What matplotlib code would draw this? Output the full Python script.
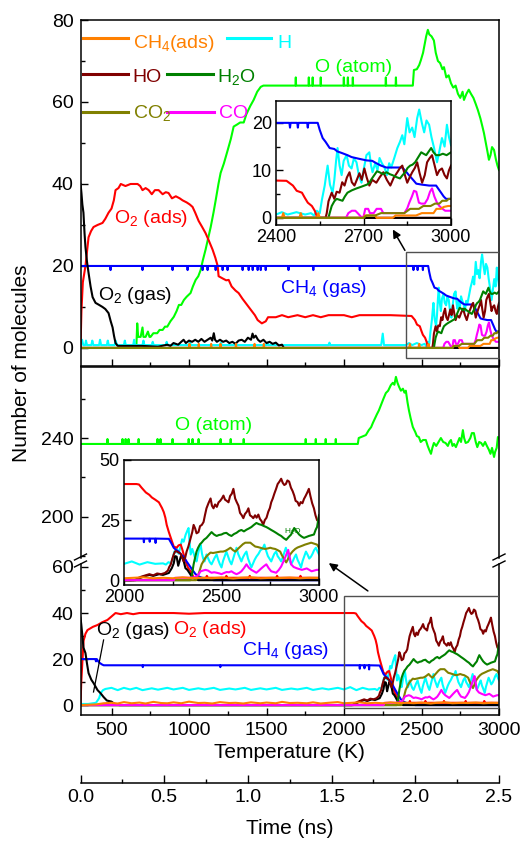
import numpy as np
import matplotlib
matplotlib.use('Agg')
import matplotlib.pyplot as plt
from matplotlib.lines import Line2D
from matplotlib.patches import Rectangle
from matplotlib.ticker import MultipleLocator

plt.rcParams['font.family'] = ['Liberation Sans', 'DejaVu Sans']
plt.rcParams['mathtext.fontset'] = 'custom'
plt.rcParams['mathtext.rm'] = 'Liberation Sans'
plt.rcParams['mathtext.default'] = 'regular'

# colours of the species
C_O = '#00ff00'
C_H = '#00ffff'
C_O2ADS = '#ff0000'
C_CH4GAS = '#0000ff'
C_O2GAS = '#000000'
C_HO = '#800000'
C_H2O = '#008000'
C_CO = '#ff00ff'
C_CH4ADS = '#ff8000'
C_CO2 = '#808000'

# ---------------- top panel data: (temperature K, number of molecules) ----------------
O2ADS_TOP = [(300,0),(306,9),(315,16),(332,20),(352,27),(368,28.5),(384,29.5),(410,30),(442,30.5),(460,31.5),
             (481,33),(500,34),(515,36),(526,38.5),(545,39),(560,40),(590,39.5),(623,40),(668,40),(685,39.5),
             (700,38.5),(720,39),(740,38.5),(760,37.5),(780,38.5),(804,38.5),(830,37.5),(850,38),(868,37.8),
             (890,36.5),(915,37),(940,36.5),(959,36),(985,35.5),(1005,35),(1023,34.4),(1040,33),(1062,31),
             (1085,29.5),(1107,28),(1130,26),(1152,24),(1170,22),(1185,20),(1191,17.5),(1215,17),(1240,16.5),
             (1256,16.6),(1275,15),(1300,14),(1320,13.4),(1345,12),(1365,11),(1385,10),(1405,9),(1425,8),
             (1443,6.8),(1470,6),(1495,6.5),(1510,7.5),(1560,7.5),(1600,8),(1640,7.5),(1700,8),(1750,7.5),
             (1800,8),(1850,7.5),(1900,8),(2000,8),(2050,7.5),(2100,8),(2200,8),(2300,8),(2436,7.8),(2458,6.8),
             (2471,5.7),(2489,5.3),(2499,4.2),(2509,3.2),(2523,2.5),(2533,1.5),(2540,0.3),(2550,0),(3000,0)]

CH4GAS_TOP = [(300,20),(492,20),(494,19),(496,20),(698,20),(700,19),(702,20),(892,20),(894,19),(896,20),
              (989,20),(991,19),(993,20),(1086,20),(1088,19),(1090,20),(1118,20),(1120,19),(1122,20),
              (1170,20),(1172,19),(1174,20),(1215,20),(1217,19),(1219,20),(1247,20),(1249,19),(1251,20),
              (1344,20),(1346,19),(1348,20),(1383,20),(1385,19),(1387,20),(1409,20),(1411,19),(1413,20),
              (1441,20),(1443,19),(1445,20),(1461,20),(1463,19),(1465,20),(1493,20),(1495,19),(1497,20),
              (1640,20),(1642,19),(1644,20),(1800,20),(1802,19),(1804,20),(2100,20),(2102,19),(2104,20),
              (2446,20),(2448,19),(2450,20),(2473,20),(2475,19),(2477,20),(2507,20),(2509,19),(2511,20),
              (2543,20),(2550,18.5),(2560,16.8),(2570,16),(2584,14.7),(2600,14.5),(2610,14),(2628,13.6),
              (2645,13.2),(2659,12.8),(2680,12.5),(2710,12.1),(2730,12),(2744,11.5),(2760,11),(2778,10.6),
              (2800,10.6),(2833,10.6),(2845,9.8),(2857,8.9),(2870,8),(2881,7.2),(2900,7),(2925,6.8),
              (2949,6.8),(2958,6),(2966,5.3),(2975,4.5),(2983,4),(3000,4)]

H_TOP = [(300,1),(310,2),(318,0.7),(330,0.7),(335,1.8),(342,0.7),(370,0.7),(376,1.8),(383,0.7),(420,0.7),
         (426,2),(433,0.7),(470,0.7),(476,1.8),(482,0.7),(520,0.7),(527,1.8),(535,0.7),(580,0.7),(586,1.8),
         (592,0.7),(640,0.7),(646,2),(652,0.7),(700,0.7),(706,1.8),(712,0.7),(760,0.7),(766,1.5),(772,0.7),
         (850,0.7),(856,1.5),(862,0.7),(1000,0.7),(1006,1.5),(1012,0.7),(1200,0.7),(1206,1.3),(1212,0.7),
         (1500,0.7),(1506,1.3),(1512,0.7),(1900,0.7),(1906,1.3),(1912,0.7),(2240,0.7),(2250,3.5),(2258,0.7),
         (2400,0.7),(2420,1.2),(2440,0.7),(2470,1.2),(2500,0.7),(2520,1),(2530,0.5),(2540,1.5),(2550,1),
         (2558,4),(2567,6.8),(2572,9),(2577,11),(2585,7),(2594,5.3),(2600,8),(2606,12),(2611,14.7),(2618,11),
         (2625,9),(2632,12),(2642,13.2),(2650,11),(2659,10.4),(2667,12.5),(2676,11.7),(2684,9),(2693,7.4),
         (2700,10),(2710,13.2),(2720,13.8),(2726,11),(2731,9.6),(2740,11.5),(2748,10),(2755,12.6),(2763,11.5),
         (2772,10.6),(2780,9),(2788,11.5),(2795,10.6),(2805,12.5),(2816,14.7),(2825,16),(2833,17.4),
         (2840,15.5),(2850,21),(2858,18),(2867,19),(2875,17),(2884,21),(2891,22.8),(2900,20),(2908,18),
         (2916,20.5),(2925,19.6),(2933,17),(2942,14.7),(2952,11.7),(2960,14),(2969,16.8),(2978,15),
         (2986,19.6),(2993,17),(3000,15.3)]

O2GAS_TOP = [(300,40),(303,39),(306,37.8),(312,35),(319,33),(326,28),(332,24.6),(342,21),(352,18.3),
             (365,15),(378,12.4),(397,11),(420,10.5),(442,10),(460,9.5),(481,8.5),(495,6.5),(507,5),(516,3),
             (526,1.2),(540,0.5),(600,0.5),(700,0.5),(800,0.3),(860,0.8),(880,0.5),(900,1.2),(930,0.8),
             (950,1.5),(965,2),(980,1.2),(1000,1.8),(1020,1.5),(1040,2),(1060,1.5),(1080,2.2),(1100,1.5),
             (1120,2),(1140,2.5),(1150,1.8),(1160,3.6),(1168,2),(1180,1.5),(1200,2),(1220,1.5),(1240,1.8),
             (1260,1.2),(1280,1.5),(1300,1),(1320,1.8),(1340,2),(1360,1.5),(1380,2.5),(1400,2),(1410,3.5),
             (1418,2.5),(1430,3),(1445,2),(1460,1.5),(1480,2),(1500,1.2),(1520,1.5),(1540,1),(1560,1.3),
             (1580,0.6),(1600,0.8),(1612,0),(3000,0)]

O_TOP = [(300,0),(660,0),(666,6),(672,2.7),(688,2.7),(700,5),(706,2.7),(720,2.7),(735,4),(745,2.7),(752,2.7),
         (770,3.6),(795,3.6),(810,4.4),(830,4.4),(845,5.2),(860,5.2),(880,6.5),(902,7.6),(920,9),(935,10.5),
         (950,10.5),(967,11.7),(985,12.5),(1010,13.4),(1025,15),(1043,16.6),(1060,17.5),(1075,19),(1090,21.5),
         (1107,24),(1125,27),(1140,29.5),(1158,33),(1172,36),(1190,40),(1204,42.7),(1225,45),(1250,48.3),
         (1270,51),(1288,54),(1310,54.5),(1330,55),(1353,55),(1370,57),(1395,59),(1417,60.5),(1440,62.5),
         (1463,63.7),(1480,64),(1687,64),(1689,66),(1691,64),(1771,64),(1773,66),(1775,64),(1796,64),
         (1798,66),(1800,64),(1848,64),(1850,66),(1852,64),(1997,64),(1999,66),(2001,64),(2023,64),(2025,66),
         (2027,64),(2055,64),(2057,66),(2059,64),(2268,64),(2270,66),(2272,64),(2333,64),(2335,66),(2337,64),
         (2444,64),(2451,67.8),(2470,68),(2485,69),(2496,70.2),(2510,72),(2520,74),(2530,76),(2541,77.6),
         (2550,76.5),(2565,76),(2580,75),(2592,72),(2606,70),(2620,69.5),(2635,68),(2645,68.5),(2660,66),
         (2675,66.5),(2690,64.6),(2705,63.5),(2720,64),(2735,62),(2750,61),(2765,62.5),(2774,60.5),(2790,62),
         (2805,63),(2819,62),(2835,61),(2850,59.5),(2864,58),(2880,56),(2893,54),(2903,52.4),(2915,50),
         (2925,48),(2935,45.9),(2945,47),(2955,49),(2968,48.3),(2980,46),(2990,44.5),(3000,43.4)]

HO_TOP = [(300,0),(2570,0),(2574,1),(2580,3.5),(2591,5.3),(2600,4),(2608,5.5),(2618,5.3),(2627,7.5),(2635,6.8),
          (2643,8.5),(2652,9.6),(2660,7.5),(2669,6.8),(2677,8),(2686,9.4),(2694,8),(2703,10.4),(2711,8.5),
          (2720,6.8),(2730,8),(2744,7.4),(2755,8.5),(2768,9.6),(2780,8),(2792,6.8),(2804,8.5),(2816,9.6),
          (2825,10.5),(2833,11),(2842,9),(2850,7.4),(2858,8.5),(2867,9.6),(2876,10.5),(2884,11.7),(2892,9.5),
          (2901,7.4),(2910,9),(2918,11.7),(2926,12.5),(2935,13.2),(2944,11),(2952,9),(2960,10),(2969,10.4),
          (2978,9),(2986,8.3),(2993,10),(3000,11)]

H2O_TOP = [(300,0),(2580,0),(2584,1),(2591,2.5),(2600,3.5),(2608,4),(2618,3.8),(2628,3.6),(2636,4.5),(2645,5.3),
           (2660,5.8),(2676,6.2),(2690,6.5),(2703,6.8),(2712,7),(2720,7.4),(2728,8.2),(2737,9),(2746,9.8),
           (2755,9.6),(2767,9.2),(2779,9.6),(2790,9.2),(2799,9),(2812,8.6),(2825,8.3),(2834,9),(2843,9.6),
           (2851,10.5),(2860,11),(2868,11.2),(2877,11.7),(2888,12.8),(2898,13.8),(2906,13.5),(2915,13.2),
           (2924,14),(2932,14.7),(2940,13.8),(2949,13.2),(2960,13.2),(2972,13.5),(2985,13.2),(3000,13.8)]

CO_TOP = [(300,0),(2640,0),(2648,1),(2660,1.5),(2672,1.5),(2680,1),(2692,0.2),(2700,0.2),(2706,1.9),(2716,1.9),
          (2722,1),(2735,1),(2745,1.9),(2760,1.9),(2768,1),(2790,1),(2805,1),(2820,1),(2840,1),(2850,2),
          (2857,3.2),(2866,4.5),(2873,5.7),(2881,5.5),(2890,3.2),(2898,3),(2910,3),(2920,4),(2928,5.5),
          (2935,6.2),(2943,4.5),(2952,3.2),(2960,2.5),(2969,2),(2980,1.5),(3000,1.5)]

CO2_TOP = [(300,0),(2700,0),(2710,0.5),(2740,0.5),(2760,1),(2800,1),(2840,1),(2860,1.9),(2890,1.9),(2905,2.5),
           (2930,2.5),(2945,3),(2960,3),(2970,3.6),(2985,3.6),(2992,4),(3000,4)]

CH4ADS_TOP = [(300,0),(1000,0),(1003,1),(1006,0),(1060,0),(1063,1),(1066,0),(1140,0),(1143,1),(1146,0),
              (1200,0),(1203,1),(1206,0),(1300,0),(1303,1),(1306,0),(1420,0),(1423,1),(1426,0),(1480,0),
              (1483,1),(1486,0),(2420,0),(2425,1),(2430,0),(2480,0),(2485,1),(2490,0),(2540,0),(2545,1),
              (2550,0),(2700,0),(2705,0.5),(2740,0.5),(2745,0),(2800,0),(2810,0.5),(2880,0.5),(2900,1),
              (2920,1),(2940,1),(2950,1.9),(2965,1.9),(2975,2.3),(2990,2.5),(3000,2.5)]

# ---------------- bottom panel data ----------------
O_BOT = [(300,237),(472,237),(474,239.5),(476,237),(569,237),(571,239.5),(573,237),(589,237),(591,239.5),
         (593,237),(608,237),(610,239.5),(612,237),(673,237),(675,239.5),(677,237),(795,237),(797,239.5),
         (799,237),(814,237),(816,239.5),(818,237),(892,237),(894,239.5),(896,237),(996,237),(998,239.5),
         (1000,237),(1021,237),(1023,239.5),(1025,237),(1060,237),(1062,239.5),(1064,237),(1202,237),
         (1204,239.5),(1206,237),(1267,237),(1269,239.5),(1271,237),(1351,237),(1353,239.5),(1355,237),
         (1751,237),(1753,239.5),(1755,237),(1816,237),(1818,239.5),(1820,237),(1880,237),(1882,239.5),
         (1884,237),(1945,237),(1947,239.5),(1949,237),(2089,237),(2095,240),(2110,240.5),(2125,241),
         (2141,241.5),(2160,244),(2175,245.5),(2186,247.6),(2200,250),(2212,252),(2225,254),(2240,257),
         (2255,260),(2270,262.8),(2285,264),(2302,266.8),(2315,268),(2325,267),(2335,271),(2345,268),
         (2355,266),(2367,264),(2380,265),(2390,263),(2399,264),(2410,258),(2419,254),(2430,250),(2444,245.6),
         (2460,243),(2470,241),(2483,240.5),(2495,238),(2510,239),(2528,239),(2540,236),(2550,234),(2561,232),
         (2570,235),(2580,237.5),(2595,236),(2610,238),(2625,240),(2640,238),(2655,237.5),(2670,236),
         (2680,238),(2690,239),(2700,236),(2710,237),(2722,235.4),(2735,238),(2745,240),(2755,238),(2767,244),
         (2775,240),(2785,237.5),(2800,238),(2815,240),(2825,242.5),(2838,242.5),(2850,238),(2860,235.4),
         (2872,238),(2885,237.5),(2897,236),(2910,238),(2922,236),(2935,234),(2945,232),(2955,235),(2968,230.4),
         (2975,233),(2985,235),(2993,240.5),(3000,240)]

O2ADS_BOT = [(300,0),(305,10),(313,20),(320,28),(332,31),(345,32.6),(380,34),(410,34.8),(440,36),(474,37),
             (500,38.5),(526,40),(560,39.5),(600,40),(640,39.5),(680,40),(900,40),(1000,39.7),(1100,40),
             (1500,40),(2064,40),(2077,39.8),(2090,38.5),(2112,36.5),(2130,35.5),(2143,34.4),(2160,33.5),
             (2179,32.4),(2195,30),(2204,28.3),(2212,26),(2219,23),(2230,20),(2240,17.6),(2255,14),(2270,13.5),
             (2280,14.5),(2291,14.8),(2300,12.5),(2306,10.7),(2321,6.6),(2330,5),(2342,3.7),(2357,1.2),
             (2370,0.8),(2420,1),(2425,1.8),(2430,1),(2520,1),(2525,1.8),(2530,1),(2640,1),(2645,1.8),
             (2650,1),(2780,1),(2785,1.8),(2790,1),(2900,1),(2905,1.8),(2910,1),(3000,1)]

CH4GAS_BOT = [(300,20),(395,20),(400,19),(405,20),(410,19.5),(420,18.5),(440,17.6),(450,17.3),(700,17.3),
              (702,16.5),(704,17.3),(1200,17.3),(1202,16.5),(1204,17.3),(2100,17.3),(2102,15.8),(2104,17.3),
              (2130,17.3),(2132,16),(2134,17.3),(2160,17.3),(2162,15.5),(2164,17.3),(2230,17.2),(2242,15.5),
              (2255,13.5),(2268,12.5),(2280,11.9),(2295,10.5),(2306,9.8),(2321,7.8),(2332,6.5),(2342,5.3),
              (2355,3.8),(2367,2.5),(2385,1.5),(2400,1),(2430,0.5),(2460,0),(3000,0)]

H_BOT = [(300,0.5),(350,0.5),(400,1),(420,3),(430,5.2),(445,6.5),(460,7),(500,7.5),(540,6.5),(580,7.5),
         (620,6.8),(660,7.5),(700,6.5),(760,7.3),(800,6.7),(860,7.5),(900,6.8),(960,7.5),(1000,6.6),
         (1060,7.3),(1100,6.8),(1160,7.5),(1200,6.6),(1260,7.2),(1300,6.8),(1360,7.5),(1400,6.6),(1460,7.3),
         (1500,6.8),(1560,7.5),(1600,6.6),(1660,7.2),(1700,6.8),(1760,7.5),(1800,6.6),(1860,7.3),(1900,6.8),
         (1960,7.5),(2000,6.8),(2040,7.8),(2080,6.5),(2120,7.5),(2160,6.8),(2200,7),(2215,6.5),(2228,7.5),
         (2240,7),(2250,9),(2258,11.9),(2265,11.5),(2272,13),(2280,11),(2290,14),(2298,17),(2306,16),
         (2316,18.9),(2324,20.5),(2331,21.7),(2337,15),(2342,10.7),(2350,13),(2358,11),(2365,9),(2372,7.8),
         (2380,11),(2387,13.5),(2393,14.8),(2400,11),(2406,9),(2413,7.8),(2418,9),(2423,10.7),(2432,9),
         (2440,7.5),(2449,6.6),(2457,8),(2466,9.5),(2475,10.7),(2483,8.5),(2491,6.8),(2500,5.3),(2508,8),
         (2517,10),(2525,11.9),(2533,10),(2542,8),(2551,6.6),(2560,9),(2568,11),(2577,13.5),(2585,11),
         (2593,9.5),(2602,7.8),(2610,9.5),(2620,11),(2628,11.9),(2636,9),(2645,7),(2653,5.3),(2662,7),
         (2670,8.5),(2679,9.8),(2690,11),(2700,12.5),(2710,13),(2720,14.8),(2730,12),(2738,10),(2746,9),
         (2755,7.8),(2763,9.5),(2771,11),(2780,11.9),(2788,10),(2797,9),(2806,7.8),(2814,9.5),(2822,11.5),
         (2830,13.5),(2840,10.5),(2848,8.5),(2857,6.6),(2866,8),(2874,9.5),(2882,10.7),(2890,8.5),(2899,7),
         (2908,5.3),(2916,8),(2925,10),(2933,11.9),(2942,10.5),(2950,9),(2959,9.8),(2967,11),(2975,12.5),
         (2984,13.5),(2992,12),(3000,10.7)]

O2GAS_BOT = [(300,38),(305,35),(313,29.6),(319,25),(332,22.6),(342,18),(352,13.9),(370,11),(384,9.6),(410,6.5),
             (429,5.2),(449,3.5),(470,2),(500,1.5),(520,0.5),(550,0),(2050,0),(2080,0.8),(2100,1.5),(2130,2.2),
             (2150,1.8),(2180,2.5),(2200,2.2),(2230,3),(2245,5),(2255,7),(2262,10),(2270,9.8),(2278,6),
             (2285,8),(2292,10),(2300,9.4),(2306,8),(2315,5),(2325,4.3),(2335,3.1),(2350,1.2),(2365,0.5),
             (2380,0),(3000,0)]

HO_BOT = [(300,0),(2060,0),(2075,1),(2090,1.5),(2110,2),(2130,2.5),(2150,2),(2170,2.8),(2190,2.5),(2210,3),
          (2225,4),(2232,5.5),(2240,6.6),(2248,9),(2255,10.7),(2262,12),(2270,12),(2280,11.5),(2291,11),
          (2298,9.5),(2306,7.8),(2314,9.5),(2321,11.9),(2330,14),(2342,17.6),(2350,20),(2357,23),(2365,21.5),
          (2372,19.5),(2382,20),(2390,22.5),(2399,23),(2408,24.2),(2415,27),(2423,29.9),(2433,32),(2444,34),
          (2451,31),(2459,29.9),(2467,31.5),(2476,30.5),(2485,32.4),(2493,33),(2502,34),(2510,35.2),
          (2518,33.5),(2527,33),(2536,32.4),(2544,35),(2553,36),(2561,38),(2570,34),(2578,32.5),(2587,31),
          (2595,28),(2604,27),(2612,25.8),(2620,27.5),(2630,28.5),(2638,29.9),(2646,27),(2655,26.5),
          (2663,25.8),(2672,27),(2680,26),(2689,27.3),(2697,25.5),(2706,24.5),(2714,23),(2722,25),(2731,26),
          (2740,28.5),(2748,30),(2755,32.4),(2763,34),(2771,36),(2780,38),(2788,40),(2797,41),(2806,42.2),
          (2814,40.5),(2822,39.6),(2830,40),(2838,41.5),(2847,41),(2856,38.5),(2865,37),(2873,35.2),
          (2880,33),(2890,32.5),(2898,31),(2906,32.5),(2915,32),(2923,33.8),(2931,35),(2940,36.5),(2948,38),
          (2956,35),(2965,32),(2974,29.9),(2982,27),(2990,25),(3000,24.2)]

H2O_BOT = [(300,0),(2340,0),(2348,2),(2357,6.6),(2365,9.5),(2372,11.9),(2380,13.5),(2390,15),(2398,15.6),
           (2410,16.8),(2423,17.6),(2436,18.8),(2449,20),(2462,19),(2475,18.4),(2487,18.8),(2500,19),
           (2512,19.5),(2525,19.7),(2538,18.9),(2551,18.4),(2564,19.2),(2577,19.7),(2590,20.5),(2602,20.9),
           (2615,20.3),(2628,21),(2640,21.5),(2653,22.1),(2666,23),(2679,23.8),(2692,23.3),(2705,23),
           (2718,22.5),(2730,22.1),(2743,21.5),(2755,20.9),(2768,20.3),(2780,19.7),(2793,19),(2806,18.4),
           (2819,17.5),(2832,16.8),(2845,18),(2857,19),(2865,20.5),(2873,21.7),(2886,20.2),(2898,19),
           (2910,18.2),(2923,17.6),(2936,18),(2948,18.4),(2961,18.7),(2974,19),(2983,21),(2990,22.1),
           (2996,25),(3000,27)]

CO2_BOT = [(300,0),(2370,0),(2382,2.5),(2390,4.5),(2398,6.6),(2408,8),(2418,9.4),(2430,10.5),(2444,11.5),
           (2456,11.3),(2469,11.5),(2482,11.7),(2495,11.9),(2508,11.9),(2520,12.2),(2533,12.8),(2546,13.5),
           (2559,12.5),(2571,11.9),(2584,13),(2597,14),(2610,15),(2622,15.6),(2635,15.6),(2648,15.6),
           (2660,14.8),(2673,14),(2686,13.8),(2699,13.5),(2711,13.2),(2724,13),(2737,13.2),(2750,13.5),
           (2762,13.2),(2775,13),(2788,12.5),(2801,11.9),(2809,10.5),(2817,9.4),(2825,8.2),(2832,7.4),
           (2842,9),(2852,10.7),(2865,12),(2878,13),(2890,13.6),(2903,14),(2916,14.4),(2928,14.8),(2944,15.2),
           (2960,15.6),(2975,15.2),(2990,14.8),(3000,13.5)]

CO_BOT = [(300,0),(2255,0),(2262,1),(2280,1),(2300,1),(2330,1),(2360,1.2),(2375,1.8),(2383,2.5),(2393,3.7),
          (2405,4),(2418,4.3),(2431,4),(2440,3.5),(2449,3.1),(2462,3.3),(2475,3.1),(2490,2.8),(2500,2.5),
          (2513,3),(2526,3.4),(2538,3.3),(2551,3.7),(2564,3),(2577,2.5),(2590,3),(2602,3.7),(2615,5),
          (2628,6.6),(2640,5.2),(2653,4.3),(2666,3.7),(2679,3.1),(2692,4),(2704,4.9),(2717,5.8),(2730,6.6),
          (2742,5),(2755,3.7),(2768,3.4),(2780,3.1),(2793,4.2),(2806,5.7),(2816,7.5),(2826,9.4),(2834,11),
          (2842,12.6),(2850,9.5),(2857,6.6),(2870,5.5),(2888,4.9),(2900,4.6),(2912,4.3),(2925,4.6),
          (2937,4.9),(2950,4.3),(2962,3.7),(2975,4),(2988,4.3),(3000,4.3)]

CH4ADS_BOT = [(300,0),(400,0.3),(450,0.8),(500,1),(540,0.7),(580,1.3),(630,0.8),(680,1.1),(720,0.7),(770,1.4),
              (820,0.9),(860,0.8),(900,1.2),(950,0.8),(1000,1.5),(1060,0.9),(1100,1),(1150,0.7),(1200,1.3),
              (1260,0.9),(1300,1),(1350,0.7),(1400,1.2),(1460,0.8),(1500,1.1),(1560,0.8),(1600,1.4),
              (1650,0.9),(1700,1),(1760,0.8),(1800,1.2),(1850,0.7),(1900,1),(1960,1.3),(2000,0.8),(2050,1),
              (2100,1.2),(2150,0.8),(2200,1),(2250,0.8),(2300,1.2),(2350,0.9),(2400,1),(2450,0.8),(2500,1.1),
              (2560,0.7),(2600,1),(2650,1.2),(2700,0.8),(2760,1),(2800,0.9),(2850,1.1),(2900,0.8),(2950,1),
              (3000,0.9)]

TOP_SERIES = [(O_TOP, C_O), (H_TOP, C_H), (O2ADS_TOP, C_O2ADS), (CH4GAS_TOP, C_CH4GAS), (O2GAS_TOP, C_O2GAS),
              (HO_TOP, C_HO), (H2O_TOP, C_H2O), (CO_TOP, C_CO), (CH4ADS_TOP, C_CH4ADS), (CO2_TOP, C_CO2)]
BOT_SERIES = [(H_BOT, C_H), (O2ADS_BOT, C_O2ADS), (CH4GAS_BOT, C_CH4GAS), (O2GAS_BOT, C_O2GAS),
              (HO_BOT, C_HO), (H2O_BOT, C_H2O), (CO2_BOT, C_CO2), (CO_BOT, C_CO), (CH4ADS_BOT, C_CH4ADS)]

W, H = 526, 842


def fig_rect(x0, y0, x1, y1):
    # pixel box (from top-left) -> figure fraction rect
    return [x0 / W, 1 - y1 / H, (x1 - x0) / W, (y1 - y0) / H]


def draw(ax, series, lw=1.5):
    for data, color in series:
        t, v = np.array(data, dtype=float).T
        ax.plot(t, v, color=color, lw=lw)


def style(ax, labelsize=14):
    ax.tick_params(which='both', direction='in', labelsize=labelsize, width=1, pad=5)
    ax.tick_params(which='major', length=5)
    ax.tick_params(which='minor', length=3)
    for s in ax.spines.values():
        s.set_linewidth(1.1)


fig = plt.figure(figsize=(W / 100, H / 100), dpi=100)

# ---------------- top panel ----------------
ax_top = fig.add_axes(fig_rect(80.5, 20, 499, 366))
draw(ax_top, TOP_SERIES)
ax_top.set_xlim(300, 3000)
ax_top.set_ylim(-4.4, 80)
ax_top.xaxis.set_major_locator(MultipleLocator(500))
ax_top.xaxis.set_minor_locator(MultipleLocator(250))
ax_top.yaxis.set_major_locator(MultipleLocator(20))
ax_top.yaxis.set_minor_locator(MultipleLocator(10))
ax_top.tick_params(labelbottom=False)
style(ax_top)

# legend drawn by hand
legend_rows = [(75.5, 73.2, [(313, 604, C_CH4ADS, 'CH$_4$(ads)', 636), (1243, 1527, C_H, 'H', 1572)]),
               (66.9, 64.9, [(313, 604, C_HO, 'HO', 636), (855, 1153, C_H2O, 'H$_2$O', 1178)]),
               (57.6, 56.1, [(313, 604, C_CO2, 'CO$_2$', 636), (855, 1160, C_CO, 'CO', 1191)])]
for yl, yb, items in legend_rows:
    for x0, x1, c, lab, xt in items:
        ax_top.plot([x0, x1], [yl, yl], color=c, lw=2.2)
        ax_top.text(xt, yb, lab, color=c, fontsize=14, va='baseline', ha='left')

ax_top.text(2063, 67.2, 'O (atom)', color=C_O, fontsize=14, ha='center', va='baseline')
ax_top.text(752, 30.6, 'O$_2$ (ads)', color=C_O2ADS, fontsize=14, ha='center', va='baseline')
ax_top.text(649, 11.8, 'O$_2$ (gas)', color=C_O2GAS, fontsize=14, ha='center', va='baseline')
ax_top.text(1870, 13.5, 'CH$_4$ (gas)', color=C_CH4GAS, fontsize=14, ha='center', va='baseline')

ax_top.add_patch(Rectangle((2400, -2.4), 600, 25.8, fill=False, ec='#505050', lw=1, zorder=5))
ax_top.annotate('', xy=(2315, 28.9), xytext=(2393, 23.8),
                arrowprops=dict(arrowstyle='-|>', color='k', lw=1.1, mutation_scale=12, shrinkA=0, shrinkB=0))

# ---------------- bottom panel: upper part ----------------
ax_up = fig.add_axes(fig_rect(80.5, 367, 499, 558))
draw(ax_up, [(O_BOT, C_O)])
ax_up.set_xlim(300, 3000)
ax_up.set_ylim(179.2, 276)
ax_up.yaxis.set_major_locator(MultipleLocator(40))
ax_up.yaxis.set_minor_locator(MultipleLocator(20))
ax_up.set_xticks([])
ax_up.spines['bottom'].set_visible(False)
style(ax_up)
ax_up.text(1159, 244, 'O (atom)', color=C_O, fontsize=14, ha='center', va='baseline')

# ---------------- bottom panel: lower part ----------------
ax_lo = fig.add_axes(fig_rect(80.5, 564, 499, 715))
draw(ax_lo, BOT_SERIES)
ax_lo.set_xlim(300, 3000)
ax_lo.set_ylim(-4.3, 61.3)
ax_lo.xaxis.set_major_locator(MultipleLocator(500))
ax_lo.xaxis.set_minor_locator(MultipleLocator(250))
ax_lo.yaxis.set_major_locator(MultipleLocator(20))
ax_lo.yaxis.set_minor_locator(MultipleLocator(10))
ax_lo.spines['top'].set_visible(False)
style(ax_lo)
ax_lo.text(642, 30.4, 'O$_2$ (gas)', color=C_O2GAS, fontsize=14, ha='center', va='baseline')
ax_lo.text(1133, 30.9, 'O$_2$ (ads)', color=C_O2ADS, fontsize=14, ha='center', va='baseline')
ax_lo.text(1624, 21.7, 'CH$_4$ (gas)', color=C_CH4GAS, fontsize=14, ha='center', va='baseline')
ax_lo.plot([449, 384], [28.3, 5.7], color='k', lw=0.9)
ax_lo.add_patch(Rectangle((2000, -1.3), 1000, 48.7, fill=False, ec='#505050', lw=1, zorder=5))
ax_lo.annotate('', xy=(1902, 61.7), xytext=(2154, 49.6), annotation_clip=False,
               arrowprops=dict(arrowstyle='-|>', color='k', lw=1.1, mutation_scale=12, shrinkA=0, shrinkB=0))

# axis-break marks
for xb in (80.5, 499):
    for yb in (557, 564):
        fig.add_artist(Line2D([(xb - 6) / W, (xb + 6) / W], [1 - (yb + 3) / H, 1 - (yb - 3) / H],
                              color='k', lw=1))

# ---------------- insets ----------------
ax_in1 = fig.add_axes(fig_rect(276, 101, 451, 225))
draw(ax_in1, TOP_SERIES)
ax_in1.set_xlim(2400, 3000)
ax_in1.set_ylim(-1.5, 24.6)
ax_in1.xaxis.set_major_locator(MultipleLocator(300))
ax_in1.xaxis.set_minor_locator(MultipleLocator(150))
ax_in1.yaxis.set_major_locator(MultipleLocator(10))
ax_in1.yaxis.set_minor_locator(MultipleLocator(5))
style(ax_in1, 13)
ax_in1.tick_params(pad=3)

ax_in2 = fig.add_axes(fig_rect(124, 460, 319, 585))
draw(ax_in2, BOT_SERIES)
ax_in2.set_xlim(2000, 3000)
ax_in2.set_ylim(-2, 50)
ax_in2.xaxis.set_major_locator(MultipleLocator(500))
ax_in2.xaxis.set_minor_locator(MultipleLocator(250))
ax_in2.yaxis.set_major_locator(MultipleLocator(25))
style(ax_in2, 13)
ax_in2.tick_params(pad=3)
ax_in2.text(2867, 20, 'H$_2$O', color=C_H2O, fontsize=6, ha='center', va='center')

# ---------------- time axis ----------------
ax_t = fig.add_axes([80.5 / W, 1 - 783 / H, (499 - 80.5) / W, 0.0001])
ax_t.patch.set_visible(False)
for s in ('left', 'right', 'top'):
    ax_t.spines[s].set_visible(False)
ax_t.set_yticks([])
ax_t.set_xlim(0, 2.5)
ax_t.xaxis.set_major_locator(MultipleLocator(0.5))
ax_t.xaxis.set_minor_locator(MultipleLocator(0.25))
ax_t.xaxis.set_major_formatter(matplotlib.ticker.FormatStrFormatter('%.1f'))
style(ax_t)
ax_t.tick_params(which='major', length=6)
ax_t.tick_params(pad=4)

fig.text(289.5 / W, 1 - 758 / H, 'Temperature (K)', fontsize=15, ha='center', va='baseline')
fig.text(289.5 / W, 1 - 834 / H, 'Time (ns)', fontsize=15, ha='center', va='baseline')
fig.text(22 / W, 1 - 363 / H, 'Number of molecules', fontsize=15, rotation=90, ha='center', va='center')

fig.savefig('out.png', dpi=100)
